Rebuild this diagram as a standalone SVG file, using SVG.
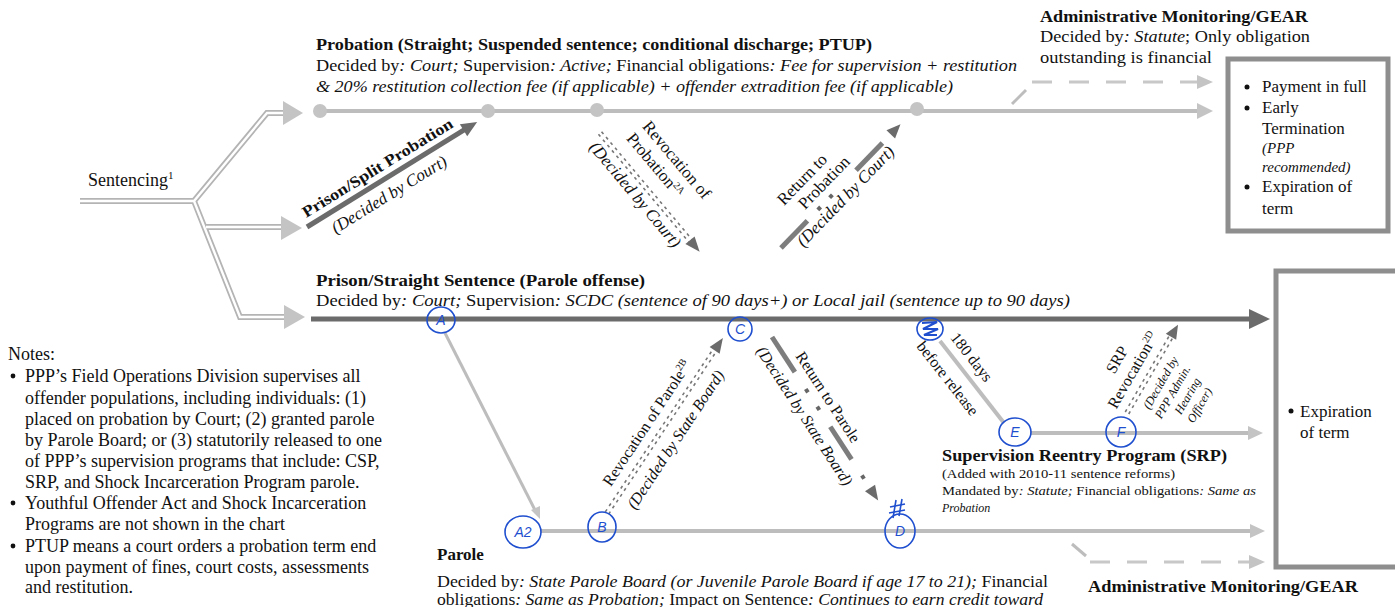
<svg xmlns="http://www.w3.org/2000/svg" width="1395" height="607" viewBox="0 0 1395 607">
<defs>
<style>
text{font-family:"Liberation Serif","Times New Roman",serif;fill:#111;font-size:16px}
.b{font-weight:bold}
.i{font-style:italic}
.f12{font-size:12px}
.f15{font-size:15px}
.f17{font-size:17px}
.f18{font-size:18px}
.mid{text-anchor:middle}
.hand{font-family:"Liberation Sans",Arial,sans-serif;fill:#1f4fcf;font-size:14px;font-style:italic;text-anchor:middle}
.hc{fill:none;stroke:#1f4fcf;stroke-width:1.6}
.dbo{fill:none;stroke:#b4b4b4;stroke-width:6}
.dbi{fill:none;stroke:#fff;stroke-width:2.4}
.lg{fill:none;stroke:#bdbdbd;stroke-width:4}
.lgh{fill:#c4c4c4}
.dk{fill:none;stroke:#6b6b6b;stroke-width:5}
.dkh{fill:#6b6b6b}
.dd{fill:none;stroke:#777;stroke-width:1.6;stroke-dasharray:3 4}
.seg{fill:none;stroke:#7d7d7d;stroke-width:5}
.dot{fill:#666}
.dash{fill:none;stroke:#c8c8c8;stroke-width:3;stroke-dasharray:20 17}
.box{fill:#fff;stroke:#8e8e8e;stroke-width:5}
.circ{fill:#c4c4c4}
</style>
</defs>
<rect width="1395" height="607" fill="#fff"/>

<g id="connectors">
  <path class="dbo" d="M80,201 H194 L267,113 H286 M194,201 L240,317 H286 M206,227 H283"/>
  <path class="dbi" d="M80,201 H194 L267,113 H286 M194,201 L240,317 H286 M206,227 H283"/>
  <polygon class="lgh" points="283,101 303,113 283,125"/>
  <polygon class="lgh" points="281,216 302,228 281,240"/>
  <polygon class="lgh" points="284,305 305,317 284,329"/>

  <line class="lg" x1="318" y1="111" x2="1199" y2="111"/>
  <polygon class="lgh" points="1197,103 1213,111 1197,119"/>
  <circle class="circ" cx="320" cy="111" r="7"/>
  <circle class="circ" cx="488" cy="111" r="7"/>
  <circle class="circ" cx="597" cy="110" r="7"/>
  <circle class="circ" cx="917" cy="109" r="7"/>

  <line x1="1012" y1="104" x2="1026" y2="90" stroke="#bdbdbd" stroke-width="3"/>
  <line class="dash" x1="1032" y1="82" x2="1198" y2="82"/>
  <polygon class="lgh" points="1197,75 1213,82 1197,89"/>

  <line class="dk" x1="311" y1="319" x2="1252" y2="319"/>
  <polygon class="dkh" points="1249,309 1270,319 1249,329"/>

  <line x1="445" y1="333" x2="536" y2="512" stroke="#bdbdbd" stroke-width="3"/>
  <polygon class="lgh" points="531,510 540,519 540,506"/>

  <line class="lg" x1="540" y1="531" x2="1252" y2="531" stroke-width="3"/>
  <polygon class="lgh" points="1250,524 1265,531 1250,538"/>

  <line class="lg" x1="1030" y1="433" x2="1250" y2="433" stroke-width="3"/>
  <polygon class="lgh" points="1248,426 1263,433 1248,440"/>

  <line x1="1072" y1="544" x2="1086" y2="556" stroke="#bdbdbd" stroke-width="3"/>
  <line class="dash" x1="1090" y1="562" x2="1251" y2="562"/>
  <polygon class="lgh" points="1249,555 1265,562 1249,569"/>

  <line x1="940" y1="341" x2="1004" y2="423" stroke="#bdbdbd" stroke-width="4"/>
</g>

<g id="sentencing">
  <text x="88" y="186" class="f18">Sentencing<tspan dy="-7" style="font-size:11px">1</tspan></text>
</g>

<g id="probation">
  <text x="316" y="50" class="b" textLength="556" lengthAdjust="spacingAndGlyphs">Probation (Straight; Suspended sentence; conditional discharge; PTUP)</text>
  <text x="316" y="71" textLength="701" lengthAdjust="spacingAndGlyphs">Decided by<tspan class="i">: Court;</tspan> Supervision<tspan class="i">: Active;</tspan> Financial obligations<tspan class="i">: Fee for supervision + restitution</tspan></text>
  <text x="316" y="92" class="i" textLength="637" lengthAdjust="spacingAndGlyphs">&amp; 20% restitution collection fee (if applicable) + offender extradition fee (if applicable)</text>
</g>

<g id="split-probation" transform="translate(307,227) rotate(-31.7)">
  <line class="dk" x1="0" y1="0" x2="188" y2="0"/>
  <polygon class="dkh" points="184,-7 200,0 184,7"/>
  <text x="91" y="-8" class="b mid" textLength="174" lengthAdjust="spacingAndGlyphs">Prison/Split Probation</text>
  <text x="87" y="21" class="i mid f17">(Decided by Court)</text>
</g>

<g id="revocation-probation" transform="translate(600,133) rotate(50)">
  <line class="dd" x1="0" y1="-2" x2="142" y2="-2"/>
  <line class="dd" x1="0" y1="2" x2="142" y2="2"/>
  <polygon class="dkh" points="140,-6 155,0 140,6"/>
  <text x="70" y="-36" class="mid f17">Revocation of</text>
  <text x="60" y="-16" class="mid f17">Probation<tspan dy="-6" style="font-size:10px">2A</tspan></text>
  <text x="70" y="18" class="i mid f17">(Decided by Court)</text>
</g>

<g id="return-probation" transform="translate(781,248) rotate(-46)">
  <line class="seg" x1="0" y1="0" x2="38" y2="0"/>
  <rect class="dot" x="53" y="-2" width="4" height="4"/>
  <rect class="dot" x="70" y="-2" width="4" height="4"/>
  <line class="seg" x1="108" y1="0" x2="146" y2="0"/>
  <polygon class="dkh" points="158,-6 172,0 158,6"/>
  <text x="64" y="-27" class="mid f17">Return to</text>
  <text x="77" y="-9" class="mid f17">Probation</text>
  <text x="82" y="16" class="i mid f17">(Decided by Court)</text>
</g>

<g id="admin-top">
  <text x="1040" y="22" class="b f17" textLength="268" lengthAdjust="spacingAndGlyphs">Administrative Monitoring/GEAR</text>
  <text x="1040" y="42" class="f17" textLength="270" lengthAdjust="spacingAndGlyphs">Decided by<tspan class="i">: Statute</tspan>; Only obligation</text>
  <text x="1040" y="63" class="f17" textLength="172" lengthAdjust="spacingAndGlyphs">outstanding is financial</text>
</g>

<g id="end-probation">
  <rect class="box" x="1228" y="59" width="160" height="172"/>
  <circle cx="1247" cy="87" r="2.5" fill="#111"/>
  <text x="1262" y="92" class="f17">Payment in full</text>
  <circle cx="1247" cy="108" r="2.5" fill="#111"/>
  <text x="1262" y="113" class="f17">Early</text>
  <text x="1262" y="134" class="f17">Termination</text>
  <text x="1262" y="153" class="i f15">(PPP</text>
  <text x="1262" y="172" class="i f15">recommended)</text>
  <circle cx="1247" cy="187" r="2.5" fill="#111"/>
  <text x="1262" y="192" class="f17">Expiration of</text>
  <text x="1262" y="214" class="f17">term</text>
</g>

<g id="prison-straight">
  <text x="316" y="286" class="b" textLength="329" lengthAdjust="spacingAndGlyphs">Prison/Straight Sentence (Parole offense)</text>
  <text x="316" y="306" textLength="754" lengthAdjust="spacingAndGlyphs">Decided by<tspan class="i">: Court;</tspan> Supervision<tspan class="i">: SCDC (sentence of 90 days+) or Local jail (sentence up to 90 days)</tspan></text>
</g>

<g id="end-prison">
  <rect class="box" x="1276" y="271" width="130" height="296"/>
  <circle cx="1291" cy="411" r="2.5" fill="#111"/>
  <text x="1300" y="417" class="f17">Expiration</text>
  <text x="1300" y="438" class="f17">of term</text>
</g>

<g id="revocation-parole" transform="translate(607,513) rotate(-56.5)">
  <line class="dd" x1="0" y1="-2" x2="196" y2="-2"/>
  <line class="dd" x1="0" y1="2" x2="196" y2="2"/>
  <polygon class="dkh" points="195,-6 210,0 195,6"/>
  <text x="97" y="-11" class="mid">Revocation of Parole<tspan dy="-6" style="font-size:10px">2B</tspan></text>
  <text x="99" y="22" class="i mid">(Decided by State Board)</text>
</g>

<g id="return-parole" transform="translate(772,337) rotate(57)">
  <line class="seg" x1="0" y1="0" x2="42" y2="0"/>
  <rect class="dot" x="62" y="-2" width="4" height="4"/>
  <rect class="dot" x="83" y="-2" width="4" height="4"/>
  <line class="seg" x1="107" y1="0" x2="146" y2="0"/>
  <rect class="dot" x="165" y="-2" width="4" height="4"/>
  <polygon class="dkh" points="180,-6 195,0 180,6"/>
  <text x="81" y="-9" class="mid">Return to Parole</text>
  <text x="84" y="21" class="i mid">(Decided by State Board)</text>
</g>

<g id="srp-transfer" transform="translate(935,335) rotate(52)">
  <text x="40" y="-10" class="mid">180 days</text>
  <text x="42" y="22" class="mid">before release</text>
</g>

<g id="srp-revocation" transform="translate(1127,413) rotate(-60)">
  <line class="dd" x1="0" y1="-2" x2="88" y2="-2"/>
  <line class="dd" x1="0" y1="2" x2="88" y2="2"/>
  <polygon class="dkh" points="88,-6 102,0 88,6"/>
  <text x="41" y="-30" class="mid">SRP</text>
  <text x="40" y="-11" class="mid">Revocation<tspan dy="-6" style="font-size:10px">2D</tspan></text>
  <text x="43" y="18" class="i f12 mid">(Decided by</text>
  <text x="41" y="33" class="i f12 mid">PPP Admin.</text>
  <text x="45" y="48" class="i f12 mid">Hearing</text>
  <text x="43" y="63" class="i f12 mid">Officer)</text>
</g>

<g id="srp">
  <text x="942" y="461" class="b f17" textLength="285" lengthAdjust="spacingAndGlyphs">Supervision Reentry Program (SRP)</text>
  <text x="942" y="478" class="f12" textLength="233" lengthAdjust="spacingAndGlyphs">(Added with 2010-11 sentence reforms)</text>
  <text x="942" y="495" class="f12" textLength="314" lengthAdjust="spacingAndGlyphs">Mandated by<tspan class="i">: Statute;</tspan> Financial obligations<tspan class="i">: Same as</tspan></text>
  <text x="942" y="512" class="i f12">Probation</text>
</g>

<g id="parole">
  <text x="437" y="560" class="b f17">Parole</text>
  <text x="437" y="587" textLength="611" lengthAdjust="spacingAndGlyphs">Decided by<tspan class="i">: State Parole Board (or Juvenile Parole Board if age 17 to 21);</tspan> Financial</text>
  <text x="437" y="605" textLength="606" lengthAdjust="spacingAndGlyphs">obligations<tspan class="i">: Same as Probation;</tspan> Impact on Sentence<tspan class="i">: Continues to earn credit toward</tspan></text>
</g>

<g id="admin-bottom">
  <text x="1088" y="592" class="b f17" textLength="270" lengthAdjust="spacingAndGlyphs">Administrative Monitoring/GEAR</text>
</g>

<g id="notes">
  <text x="8" y="360" class="f18">Notes:</text>
  <circle cx="13" cy="376" r="2.4" fill="#111"/>
  <text x="25" y="382" class="f18">PPP’s Field Operations Division supervises all</text>
  <text x="25" y="404" class="f18">offender populations, including individuals: (1)</text>
  <text x="25" y="425" class="f18">placed on probation by Court; (2) granted parole</text>
  <text x="25" y="446" class="f18">by Parole Board; or (3) statutorily released to one</text>
  <text x="25" y="467" class="f18">of PPP’s supervision programs that include: CSP,</text>
  <text x="25" y="488" class="f18">SRP, and Shock Incarceration Program parole.</text>
  <circle cx="13" cy="503" r="2.4" fill="#111"/>
  <text x="25" y="509" class="f18">Youthful Offender Act and Shock Incarceration</text>
  <text x="25" y="530" class="f18">Programs are not shown in the chart</text>
  <circle cx="13" cy="546" r="2.4" fill="#111"/>
  <text x="25" y="552" class="f18">PTUP means a court orders a probation term end</text>
  <text x="25" y="573" class="f18">upon payment of fines, court costs, assessments</text>
  <text x="25" y="593" class="f18">and restitution.</text>
</g>

<g id="annotations">
  <g id="mark-A"><ellipse class="hc" cx="441" cy="320" rx="14" ry="13"/><text class="hand" x="441" y="325">A</text></g>
  <g id="mark-A2"><ellipse class="hc" cx="523" cy="532" rx="18" ry="16"/><text class="hand" x="523" y="537">A2</text></g>
  <g id="mark-B"><ellipse class="hc" cx="602" cy="527" rx="14" ry="15"/><text class="hand" x="602" y="532">B</text></g>
  <g id="mark-C"><ellipse class="hc" cx="740" cy="329" rx="12" ry="12"/><text class="hand" x="740" y="334">C</text></g>
  <g id="mark-D"><ellipse class="hc" cx="900" cy="531" rx="15" ry="17"/><text class="hand" x="900" y="536">D</text>
    <polyline class="hc" points="890,507 905,504"/><polyline class="hc" points="889,513 905,510"/><polyline class="hc" points="896,500 893,518"/><polyline class="hc" points="902,499 899,516"/></g>
  <g id="mark-E0"><ellipse class="hc" cx="930" cy="329" rx="13" ry="11"/>
    <polyline points="922,323 937,322 923,329 938,329 924,335 937,335" fill="none" stroke="#1f4fcf" stroke-width="2.2"/></g>
  <g id="mark-E"><ellipse class="hc" cx="1015" cy="432" rx="16" ry="14"/><text class="hand" x="1015" y="437">E</text></g>
  <g id="mark-F"><ellipse class="hc" cx="1121" cy="432" rx="15" ry="15"/><text class="hand" x="1121" y="437">F</text></g>
</g>
</svg>
